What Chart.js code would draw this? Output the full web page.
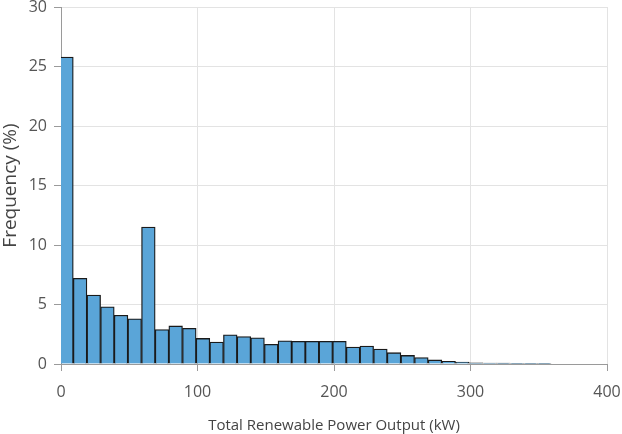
<!DOCTYPE html>
<html>
<head>
<meta charset="utf-8">
<script src="https://cdn.jsdelivr.net/npm/chart.js@4"></script>
<style>
  html, body { margin: 0; padding: 0; background: #fff; }
  #wrap { width: 622px; height: 434px; }
</style>
</head>
<body>
<div id="wrap"><canvas id="histChart" width="622" height="434"></canvas></div>
<script>
// bin centres (kW), bins are 10 kW wide
const binCenters = [4, 14, 24, 34, 44, 54, 64, 74, 84, 94,
    104, 114, 124, 134, 144, 154, 164, 174, 184, 194,
    204, 214, 224, 234, 244, 254, 264, 274, 284, 294,
    304, 314, 324, 334, 344, 354];
// frequency (%) per bin
const frequency = [25.8, 7.2, 5.8, 4.8, 4.1, 3.8, 11.5, 2.9, 3.2, 3.0,
    2.15, 1.85, 2.45, 2.3, 2.2, 1.65, 1.95, 1.9, 1.9, 1.9,
    1.9, 1.42, 1.5, 1.25, 0.95, 0.72, 0.55, 0.34, 0.23, 0.17,
    0.09, 0.08, 0.07, 0.06, 0.05, 0.05];
const xTicks = [0, 100, 200, 300, 400];
const yTicks = [0, 5, 10, 15, 20, 25, 30];

const points = binCenters.map((c, i) => ({ x: c, y: frequency[i] }));
const family = '"Open Sans", "Noto Sans", sans-serif';

const ctx = document.getElementById('histChart').getContext('2d');
const chart = new Chart(ctx, {
    type: 'bar',
    data: {
        datasets: [{
            data: points,
            backgroundColor: '#5aa5d8',
            borderColor: '#1a1a1a',
            borderWidth: 1.3,
            barPercentage: 1,
            categoryPercentage: 1,
            clip: 0
        }]
    },
    options: {
        responsive: false,
        animation: false,
        layout: { padding: { top: 7, right: 15, left: 0, bottom: 0 } },
        plugins: { legend: { display: false }, tooltip: { enabled: false } },
        scales: {
            x: {
                type: 'linear',
                offset: false,
                min: 0,
                max: 400,
                afterBuildTicks: s => { s.ticks = xTicks.map(v => ({ value: v })); },
                afterFit: s => { s.height = 70; s.paddingLeft = 0; s.paddingRight = 0; },
                grid: { color: '#e3e3e3', tickColor: '#9a9a9a', tickLength: 7, offset: false },
                border: { color: '#9a9a9a', width: 1 },
                ticks: { color: '#555', font: { family: family, size: 16 }, padding: 12, maxRotation: 0 },
                title: { display: true, text: 'Total Renewable Power Output (kW)', color: '#444', font: { family: family, size: 15 }, padding: { top: 0, bottom: -1 } }
            },
            y: {
                min: 0,
                max: 30,
                afterBuildTicks: s => { s.ticks = yTicks.map(v => ({ value: v })); },
                afterFit: s => { s.width = 61; s.paddingTop = 0; s.paddingBottom = 0; },
                grid: { color: '#e3e3e3', tickColor: '#9a9a9a', tickLength: 7 },
                border: { color: '#9a9a9a', width: 1 },
                ticks: { color: '#555', font: { family: family, size: 16 }, padding: 7 },
                title: { display: true, text: 'Frequency (%)', color: '#444', font: { family: family, size: 19 }, padding: { top: -1 } }
            }
        }
    }
});
</script>
</body>
</html>
